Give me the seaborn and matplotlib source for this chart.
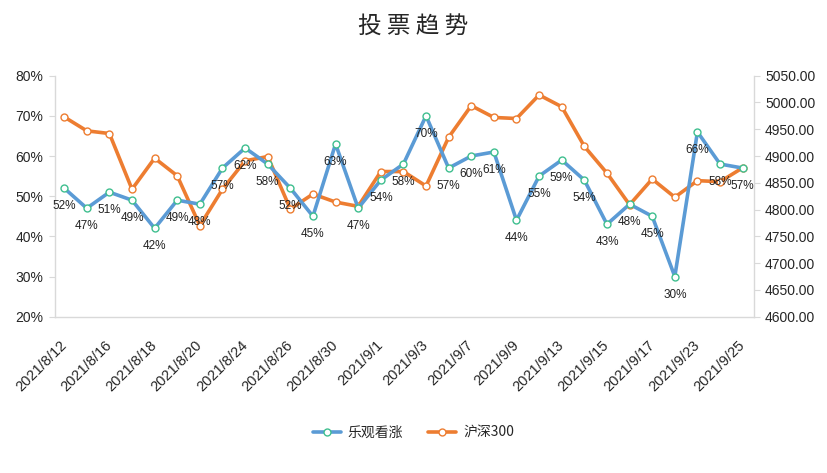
import numpy as np
import pandas as pd
import matplotlib
matplotlib.use("Agg")
import matplotlib.pyplot as plt
import seaborn as sns
from matplotlib.ticker import FuncFormatter, FixedLocator

# Data
dates = [
    "2021/8/12", "2021/8/13", "2021/8/16", "2021/8/17", "2021/8/18", "2021/8/19",
    "2021/8/20", "2021/8/23", "2021/8/24", "2021/8/25", "2021/8/26", "2021/8/27",
    "2021/8/30", "2021/8/31", "2021/9/1", "2021/9/2", "2021/9/3", "2021/9/6",
    "2021/9/7", "2021/9/8", "2021/9/9", "2021/9/10", "2021/9/13", "2021/9/14",
    "2021/9/15", "2021/9/16", "2021/9/17", "2021/9/22", "2021/9/23", "2021/9/24",
    "2021/9/25",
]
bullish = [52, 47, 51, 49, 42, 49, 48, 57, 62, 58, 52, 45, 63, 47, 54, 58,
           70, 57, 60, 61, 44, 55, 59, 54, 43, 48, 45, 30, 66, 58, 57]
hs300 = [4973, 4947, 4942, 4838, 4896, 4863, 4770, 4838, 4891, 4899, 4801,
         4829, 4814, 4806, 4871, 4871, 4844, 4935, 4994, 4972, 4970, 5014,
         4992, 4918, 4868, 4809, 4857, 4823, 4854, 4852, 4878]

df = pd.DataFrame({"date": dates, "bullish": bullish, "hs300": hs300})
df["pos"] = np.arange(len(df))

sns.set_style("white")
plt.rcParams["font.family"] = ["Liberation Sans", "Noto Sans CJK SC", "DejaVu Sans"]

blue = "#5B9BD5"
green = "#3FBF8F"
orange = "#ED7D31"
gray = "#D9D9D9"

fig = plt.figure(figsize=(8.27, 4.73), dpi=100)
ax = fig.add_axes([0.0661, 0.3305, 0.8456, 0.5095])
ax2 = ax.twinx()

sns.lineplot(data=df, x="pos", y="bullish", ax=ax, color=blue, linewidth=2.6,
             marker="o", markersize=5, markerfacecolor="white",
             markeredgecolor=green, markeredgewidth=1.0, label="乐观看涨",
             legend=False, zorder=3)
sns.lineplot(data=df, x="pos", y="hs300", ax=ax2, color=orange, linewidth=2.6,
             marker="o", markersize=5, markerfacecolor="white",
             markeredgecolor=orange, markeredgewidth=1.0, label="沪深300",
             legend=False, zorder=3)

# data labels under the blue points
for x, v in zip(df["pos"], df["bullish"]):
    ax.annotate(f"{v}%", xy=(x, v), xytext=(0, -13), textcoords="offset points",
                ha="center", va="center", fontsize=8.5, color="#222222",
                zorder=5)

ax.set_xlim(-0.42, 30.5)
ax.set_ylim(20, 80)
ax2.set_ylim(4600, 5050)
ax.set_yticks(np.arange(20, 81, 10))
ax.yaxis.set_major_formatter(FuncFormatter(lambda v, p: f"{v:.0f}%"))
ax2.set_yticks(np.arange(4600, 5051, 50))
ax2.yaxis.set_major_formatter(FuncFormatter(lambda v, p: f"{v:.2f}"))

tick_pos = df["pos"][::2].tolist()
ax.xaxis.set_major_locator(FixedLocator(tick_pos))
ax.set_xticklabels(df["date"][::2], rotation=45, ha="right",
                   rotation_mode="anchor", va="center", fontsize=10.5)
ax.tick_params(axis="x", length=0, pad=19)
ax.tick_params(axis="y", length=4, color=gray, labelsize=10, pad=4)
ax2.tick_params(axis="y", length=4, color=gray, labelsize=10, pad=4)

ax.set_xlabel("")
ax.set_ylabel("")
ax2.set_ylabel("")

for a in (ax, ax2):
    for s in a.spines.values():
        s.set_color(gray)
        s.set_linewidth(1)
    a.spines["top"].set_visible(False)
ax.spines["right"].set_visible(False)
ax2.spines["left"].set_visible(False)
ax2.spines["bottom"].set_visible(False)

ax.set_zorder(ax2.get_zorder() + 1)
ax.patch.set_visible(False)

fig.text(0.5, 0.943, "投 票 趋 势", ha="center", va="center", fontsize=17,
         family=["Noto Sans CJK SC", "DejaVu Sans"])

h1, l1 = ax.get_legend_handles_labels()
h2, l2 = ax2.get_legend_handles_labels()
fig.legend(h1 + h2, l1 + l2, loc="center", bbox_to_anchor=(0.5, 0.085),
           ncol=2, frameon=False, handlelength=2.0, handletextpad=0.5,
           columnspacing=1.8,
           prop={"family": ["Noto Sans CJK SC", "DejaVu Sans"], "size": 10})

fig.savefig("out.png", dpi=100)
